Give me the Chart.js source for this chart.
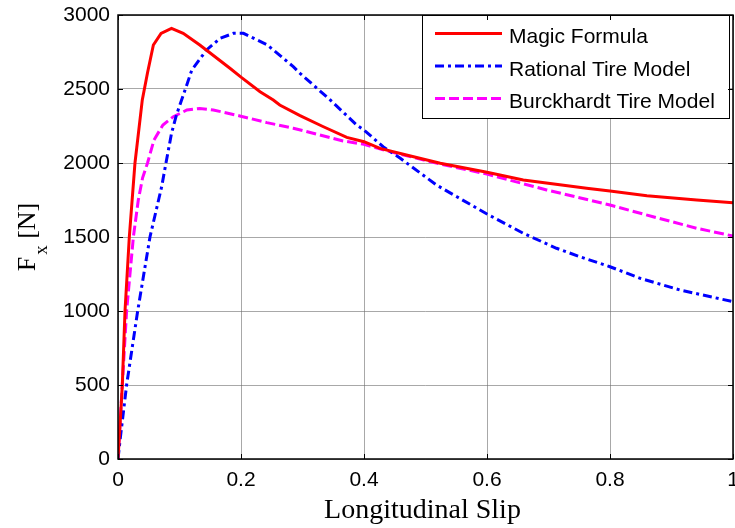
<!DOCTYPE html>
<html>
<head>
<meta charset="utf-8">
<script src="https://cdn.jsdelivr.net/npm/chart.js@4.4.0/dist/chart.umd.min.js"></script>
<style>
    html, body { margin: 0; padding: 0; background: #fff; }
    #wrap { width: 735px; height: 528px; }
</style>
</head>
<body>
<div id="wrap"><canvas id="tireChart" width="735" height="528"></canvas></div>
<script>
const seriesLabels = ["Magic Formula", "Rational Tire Model", "Burckhardt Tire Model"];

const magicSlip = [0, 0.004, 0.007, 0.0114, 0.0184, 0.0276, 0.0395, 0.048, 0.0575, 0.07, 0.087, 0.106, 0.133, 0.182, 0.2, 0.231, 0.2525, 0.263, 0.296, 0.334, 0.372, 0.4, 0.426, 0.469, 0.524, 0.6, 0.659, 0.762, 0.8, 0.86, 0.941, 1.0];
const magicFx = [0, 280, 500, 1000, 1500, 2000, 2426, 2610, 2797, 2876, 2910, 2876, 2797, 2640, 2580, 2482, 2426, 2392, 2320, 2245, 2173, 2144, 2099, 2054, 1998, 1938, 1885, 1829, 1811, 1779, 1750, 1732];

const rationalSlip = [0, 0.004, 0.014, 0.032, 0.052, 0.071, 0.078, 0.087, 0.095, 0.109, 0.12, 0.144, 0.166, 0.1875, 0.204, 0.242, 0.285, 0.296, 0.345, 0.388, 0.4, 0.431, 0.459, 0.518, 0.551, 0.6, 0.659, 0.713, 0.751, 0.8, 0.849, 0.914, 1.0];
const rationalFx = [0, 150, 500, 1000, 1500, 1840, 2000, 2200, 2324, 2493, 2628, 2764, 2842, 2876, 2876, 2800, 2651, 2606, 2426, 2257, 2223, 2110, 2032, 1851, 1772, 1655, 1525, 1424, 1367, 1299, 1221, 1142, 1063];

const burckSlip = [0, 0.007, 0.014, 0.025, 0.033, 0.04, 0.048, 0.0585, 0.073, 0.09, 0.112, 0.133, 0.155, 0.198, 0.242, 0.285, 0.366, 0.4, 0.442, 0.524, 0.6, 0.697, 0.8, 0.87, 0.941, 1.0];
const burckFx = [0, 500, 1000, 1500, 1750, 1900, 2000, 2155, 2257, 2313, 2358, 2368, 2358, 2318, 2273, 2235, 2149, 2126, 2077, 1993, 1925, 1818, 1716, 1637, 1559, 1507];

const xTicks = [0, 0.2, 0.4, 0.6, 0.8, 1];
const yTicks = [0, 500, 1000, 1500, 2000, 2500, 3000];

function toPoints(xs, ys) {
    return xs.map((x, i) => ({x: x, y: ys[i]}));
}

function makeSet(label, xs, ys, color, dash) {
    return {
        label: label,
        data: toPoints(xs, ys),
        borderColor: color,
        backgroundColor: color,
        borderWidth: 3,
        borderDash: dash,
        pointRadius: 0,
        tension: 0,
        fill: false,
    };
}

const sansFont = {family: "'Liberation Sans', Arial, sans-serif", size: 21};
const gridColor = 'rgba(110,110,110,0.6)';

// top/right box lines, inward ticks, legend box and axis titles
const matlabLook = {
    id: 'matlabLook',
    afterDraw(chart) {
        let ctx = chart.ctx;
        let a = chart.chartArea;
        let xs = chart.scales.x, ys = chart.scales.y;
        ctx.save();

        // legend
        let lw = 307, lh = 103;
        let lx = a.right - lw - 4, ly = a.top;
        ctx.fillStyle = '#fff';
        ctx.fillRect(lx, ly, lw, lh);
        ctx.strokeStyle = '#000';
        ctx.lineWidth = 1;
        ctx.strokeRect(lx + 0.5, ly + 0.5, lw, lh);
        ctx.font = "21px 'Liberation Sans', Arial, sans-serif";
        ctx.textBaseline = 'alphabetic';
        ctx.textAlign = 'left';
        chart.data.datasets.forEach((ds, i) => {
            let rowY = ly + 18.5 + i * 32.5;
            ctx.beginPath();
            ctx.setLineDash(ds.borderDash || []);
            ctx.strokeStyle = ds.borderColor;
            ctx.lineWidth = 3;
            ctx.moveTo(lx + 13, rowY);
            ctx.lineTo(lx + 80, rowY);
            ctx.stroke();
            ctx.setLineDash([]);
            ctx.fillStyle = '#000';
            ctx.fillText(ds.label, lx + 87, rowY + 9.5);
        });

        // box
        ctx.strokeStyle = '#000';
        ctx.lineWidth = 1.5;
        ctx.strokeRect(a.left, a.top, a.right - a.left, a.bottom - a.top);

        // inward tick marks
        ctx.lineWidth = 1;
        ctx.beginPath();
        xTicks.forEach(v => {
            let px = Math.round(xs.getPixelForValue(v)) + 0.5;
            ctx.moveTo(px, a.bottom); ctx.lineTo(px, a.bottom - 5);
            ctx.moveTo(px, a.top); ctx.lineTo(px, a.top + 5);
        });
        yTicks.forEach(v => {
            let py = Math.round(ys.getPixelForValue(v)) + 0.5;
            ctx.moveTo(a.left, py); ctx.lineTo(a.left + 5, py);
            ctx.moveTo(a.right, py); ctx.lineTo(a.right - 5, py);
        });
        ctx.stroke();

        // x title
        ctx.fillStyle = '#000';
        ctx.textAlign = 'center';
        ctx.font = "28px 'Liberation Serif', 'Times New Roman', serif";
        ctx.fillText('Longitudinal Slip', (a.left + a.right) / 2 - 3, a.bottom + 59);

        // y title, F with subscript x
        let big = "26px 'Liberation Serif', 'Times New Roman', serif";
        let small = "19px 'Liberation Serif', 'Times New Roman', serif";
        ctx.font = big;
        let wF = ctx.measureText('F').width;
        let wN = ctx.measureText(' [N]').width;
        ctx.font = small;
        let wx = ctx.measureText('x').width;
        let total = wF + 2 + wx + wN;
        ctx.translate(a.left - 83, (a.top + a.bottom) / 2);
        ctx.rotate(-Math.PI / 2);
        ctx.textAlign = 'left';
        let sx = -total / 2;
        ctx.font = big;
        ctx.fillText('F', sx, 0);
        ctx.font = small;
        ctx.fillText('x', sx + wF + 2, 12);
        ctx.font = big;
        ctx.fillText(' [N]', sx + wF + 2 + wx, 0);

        ctx.restore();
    }
};

new Chart(document.getElementById('tireChart').getContext('2d'), {
    type: 'line',
    data: {
        datasets: [
            makeSet(seriesLabels[0], magicSlip, magicFx, '#ff0000', []),
            makeSet(seriesLabels[1], rationalSlip, rationalFx, '#0000ff', [9, 4, 3, 4]),
            makeSet(seriesLabels[2], burckSlip, burckFx, '#ff00ff', [10, 4]),
        ]
    },
    options: {
        responsive: false,
        devicePixelRatio: 1,
        animation: false,
        layout: {padding: {left: 0, top: 15, right: 2, bottom: 0}},
        plugins: {
            legend: {display: false},
            tooltip: {enabled: false},
        },
        scales: {
            x: {
                type: 'linear',
                min: 0,
                max: 1,
                afterBuildTicks: s => { s.ticks = xTicks.map(v => ({value: v})); },
                afterFit: s => { s.height = 69; s.paddingLeft = 0; s.paddingRight = 0; },
                ticks: {
                    font: sansFont,
                    color: '#000',
                    padding: 9,
                    maxRotation: 0,
                    autoSkip: false,
                    callback: v => String(Math.round(v * 10) / 10),
                },
                grid: {color: gridColor, lineWidth: 1, drawTicks: false},
                border: {display: false},
            },
            y: {
                type: 'linear',
                min: 0,
                max: 3000,
                afterBuildTicks: s => { s.ticks = yTicks.map(v => ({value: v})); },
                afterFit: s => { s.width = 118; s.paddingTop = 0; s.paddingBottom = 0; },
                ticks: {
                    font: sansFont,
                    color: '#000',
                    padding: 8,
                    autoSkip: false,
                    callback: v => String(v),
                },
                grid: {color: gridColor, lineWidth: 1, drawTicks: false},
                border: {display: false},
            }
        }
    },
    plugins: [matlabLook]
});
</script>
</body>
</html>
